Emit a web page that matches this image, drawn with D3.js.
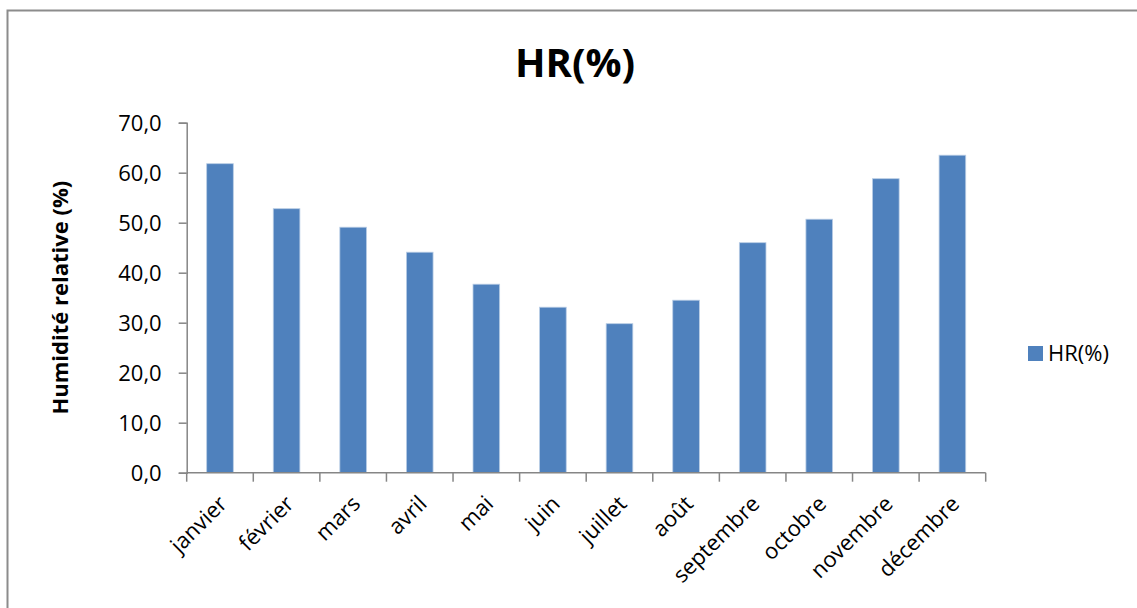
<!DOCTYPE html>
<html>
<head>
<meta charset="utf-8">
<script src="https://cdn.jsdelivr.net/npm/d3@7"></script>
<style>
  html, body { margin: 0; padding: 0; background: #fff; }
  svg { display: block; }
  text { font-family: "Open Sans", "Noto Sans", sans-serif; fill: #000; }
</style>
</head>
<body>
<svg id="chart" width="1137" height="608"></svg>
<script>
const categories = ["janvier", "février", "mars", "avril", "mai", "juin", "juillet", "août", "septembre", "octobre", "novembre", "décembre"];
const seriesName = "HR(%)";
const hrValues = [61.8, 52.8, 49.1, 44.1, 37.7, 33.1, 29.8, 34.5, 46.0, 50.7, 58.8, 63.5];
const yTicks = [0, 10, 20, 30, 40, 50, 60, 70];
const titleText = "HR(%)";
const yAxisTitle = "Humidité relative (%)";

const svg = d3.select("#chart");

// outer chart border
svg.append("rect")
  .attr("x", 7.5).attr("y", 10.5)
  .attr("width", 1140).attr("height", 620)
  .attr("fill", "#fff").attr("stroke", "#8c8c8c").attr("stroke-width", 2);

const plot = { left: 186.7, right: 985.7, top: 122.7, bottom: 472.7 };

const x = d3.scaleBand().domain(categories).range([plot.left, plot.right]).paddingInner(0.6).paddingOuter(0.3);
const xTickScale = d3.scaleBand().domain(categories).range([plot.left, plot.right]);
const y = d3.scaleLinear().domain([0, 70]).range([plot.bottom, plot.top]);

// bars
svg.append("g").selectAll("rect").data(hrValues).join("rect")
  .attr("x", (d, i) => x(categories[i]))
  .attr("width", x.bandwidth())
  .attr("y", d => y(d))
  .attr("height", d => y(0) - y(d))
  .attr("fill", "#4f81bd")
  .attr("stroke", "#b9cde5").attr("stroke-width", 0.8);

// y axis
const yAxis = d3.axisLeft(y).tickValues(yTicks).tickSize(8).tickPadding(17)
  .tickFormat(d => d3.format(".1f")(d).replace(".", ","));
const gy = svg.append("g").attr("transform", `translate(${plot.left},0)`).call(yAxis);
gy.select(".domain").attr("stroke", "#868686").attr("stroke-width", 1.5);
gy.selectAll(".tick line").attr("stroke", "#868686").attr("stroke-width", 1.5);
gy.selectAll(".tick text").style("font-size", "22px").attr("fill", "#000").attr("dy", "0.35em");

// x axis with ticks at band boundaries
const boundaries = d3.range(categories.length + 1).map(i => plot.left + i * xTickScale.step());
const gx = svg.append("g");
gx.append("line").attr("x1", plot.left).attr("x2", plot.right)
  .attr("y1", plot.bottom).attr("y2", plot.bottom)
  .attr("stroke", "#868686").attr("stroke-width", 1.5);
gx.selectAll("line.tk").data(boundaries).join("line").attr("class", "tk")
  .attr("x1", d => d).attr("x2", d => d)
  .attr("y1", plot.bottom).attr("y2", plot.bottom + 9)
  .attr("stroke", "#868686").attr("stroke-width", 1.5);
gx.selectAll("text").data(categories).join("text")
  .attr("transform", d => `translate(${xTickScale(d) + xTickScale.bandwidth() / 2 + 3},${plot.bottom + 27}) rotate(-45)`)
  .attr("text-anchor", "end")
  .attr("dy", "0.35em")
  .style("font-size", "22px")
  .text(d => d);

// title
svg.append("text").attr("x", 575).attr("y", 77)
  .attr("text-anchor", "middle")
  .style("font-size", "40px").style("font-weight", "bold")
  .text(titleText);

// y axis title
svg.append("text")
  .attr("transform", `translate(68,${(plot.top + plot.bottom) / 2}) rotate(-90)`)
  .attr("text-anchor", "middle")
  .style("font-size", "22px").style("font-weight", "bold")
  .text(yAxisTitle);

// legend
const lg = svg.append("g").attr("transform", "translate(1028,346)");
lg.append("rect").attr("width", 15).attr("height", 15).attr("fill", "#4f81bd");
lg.append("text").attr("x", 20).attr("y", 7.5).attr("dy", "0.35em")
  .style("font-size", "22px").text(seriesName);
</script>
</body>
</html>
